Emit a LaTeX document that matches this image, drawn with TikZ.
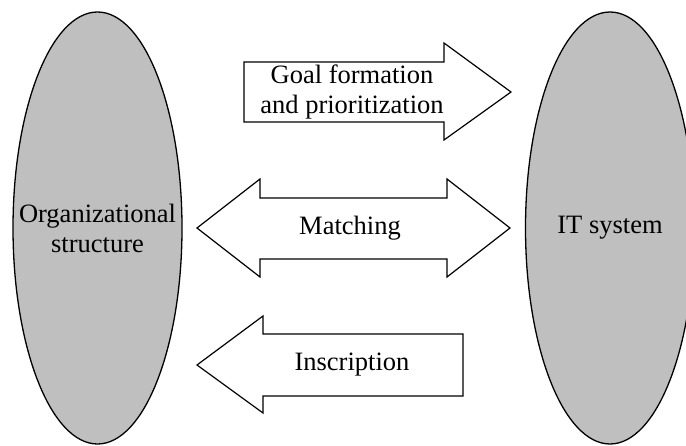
\documentclass[tikz,border=0pt]{standalone}
\usepackage{fontspec}
\setmainfont{Liberation Serif}
\usetikzlibrary{shapes.geometric}

\begin{document}
\begin{tikzpicture}[x=1pt,y=-1pt, actor/.style={draw,ellipse,fill=black!25,line width=1.3pt,minimum width=169pt,minimum height=432pt,inner sep=0pt}, lbl/.style={align=center,font=\fontsize{26.5}{30}\selectfont}, flow/.style={draw,line width=1.2pt,fill=white,line join=miter}]
\useasboundingbox (0,0) rectangle (686,446);
\clip (0,0) rectangle (686,446);
\node[actor] (org) at (97.5,228) {};
\node[actor] (its) at (610,228) {};
\node[lbl] (orgtxt) at (org) {Organizational\\structure};
\node[lbl] (itstxt) at (its) {IT system};
% goal formation arrow
\draw[flow] (244,62) -- (444,62) -- (444,43) -- (511,92) -- (444,140) -- (444,122) -- (244,122) -- cycle;
% matching arrow
\draw[flow] (197,228) -- (260,179) -- (260,198) -- (447,198) -- (447,179) -- (510,228) -- (447,277) -- (447,259) -- (260,259) -- (260,277) -- cycle;
% inscription arrow
\draw[flow] (197,365) -- (263,316) -- (263,334) -- (463,334) -- (463,396) -- (263,396) -- (263,413) -- cycle;
\node[lbl] (goal) at (352,92) {Goal formation\\and prioritization};
\node[lbl] (match) at (350,228) {Matching};
\node[lbl] (inscr) at (352,365) {Inscription};
\end{tikzpicture}
\end{document}
